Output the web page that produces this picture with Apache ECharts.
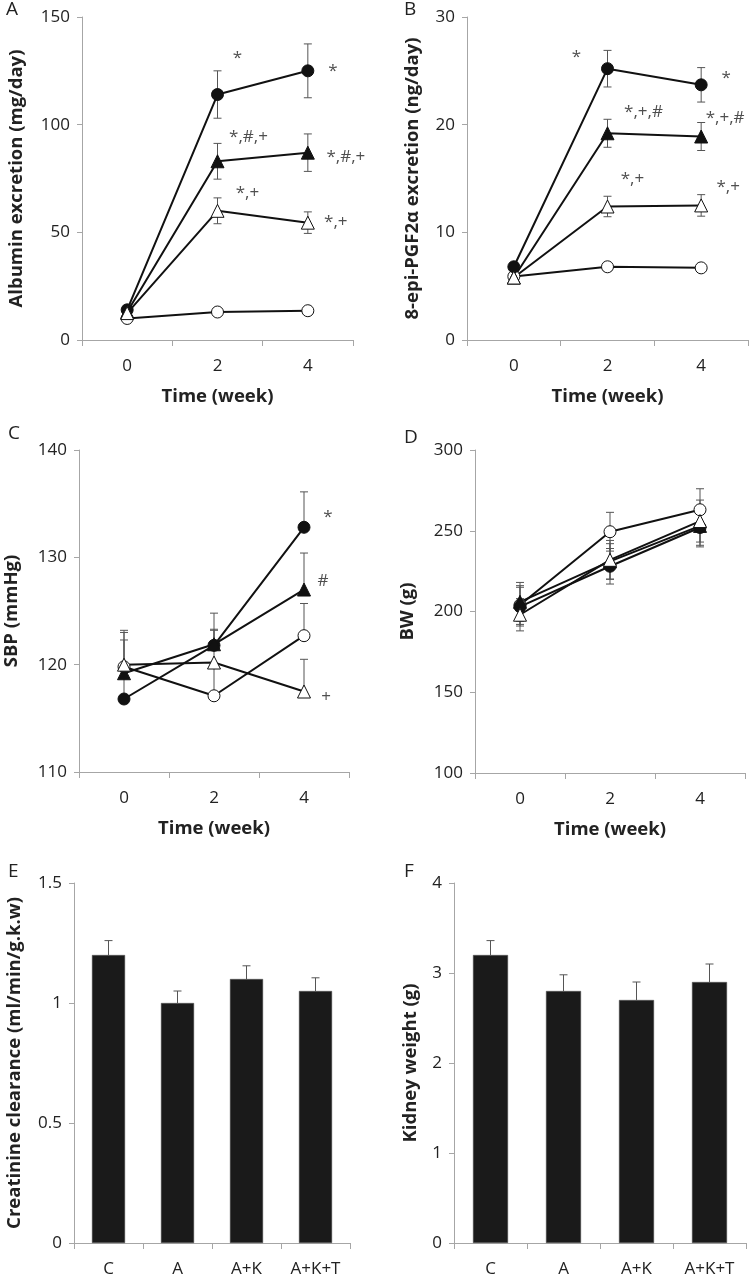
<!DOCTYPE html>
<html>
<head>
<meta charset="utf-8">
<script src="https://cdn.jsdelivr.net/npm/echarts@6/dist/echarts.min.js"></script>
<style>
html, body { margin: 0; padding: 0; background: #fff; }
#main { width: 752px; height: 1280px; }
</style>
</head>
<body>
<div id="main"></div>
<script>
// ---- data ----
var weeks = ['0', '2', '4'];
var groups = ['C', 'A', 'A+K', 'A+K+T'];

// A: albumin excretion (mg/day)  [C, A, A+K, A+K+T]
var albC = [10, 13, 13.6];
var albA = [14, 114, 125];
var albAK = [13, 83, 87];
var albAKT = [12.5, 60, 54.5];
var albErrC = [1, 1, 1];
var albErrA = [2, 11, 12.5];
var albErrAK = [2, 8.3, 8.7];
var albErrAKT = [2, 6, 5];

// B: 8-epi-PGF2a excretion (ng/day)
var pgfC = [5.9, 6.8, 6.7];
var pgfA = [6.8, 25.2, 23.7];
var pgfAK = [5.8, 19.2, 18.9];
var pgfAKT = [5.8, 12.4, 12.5];
var pgfErrC = [0.3, 0.4, 0.3];
var pgfErrA = [0.4, 1.7, 1.6];
var pgfErrAK = [0.3, 1.3, 1.3];
var pgfErrAKT = [0.3, 0.95, 1.0];

// C: SBP (mmHg)
var sbpC = [119.8, 117.1, 122.7];
var sbpA = [116.8, 121.8, 132.8];
var sbpAK = [119.2, 121.9, 127];
var sbpAKT = [120, 120.2, 117.5];
var sbpErrC = [3.4, 3, 3];
var sbpErrA = [3, 3, 3.3];
var sbpErrAK = [3.1, 1.4, 3.4];
var sbpErrAKT = [3, 3, 3];

// D: BW (g)
var bwC = [204, 249.4, 263];
var bwA = [203, 228, 252];
var bwAK = [206, 231, 253];
var bwAKT = [198, 232, 256];
var bwErrC = [12, 12, 13];
var bwErrA = [12, 11, 12];
var bwErrAK = [12, 11, 12];
var bwErrAKT = [10, 12, 13];

// E: creatinine clearance, F: kidney weight
var crcl = [1.2, 1.0, 1.1, 1.05];
var crclErr = [0.06, 0.05, 0.055, 0.055];
var kw = [3.2, 2.8, 2.7, 2.9];
var kwErr = [0.16, 0.18, 0.2, 0.2];

// significance marks: week index, value, text
var annAX = [1, 2, 1, 2, 1, 2];
var annAY = [131, 125, 94, 85, 68, 54.5];
var annAText = ['*', '*', '*,#,+', '*,#,+', '*,+', '*,+'];
var annBX = [1, 2, 1, 2, 1, 2];
var annBY = [26.3, 24.3, 21.2, 20.6, 14.9, 14.2];
var annBText = ['*', '*', '*,+,#', '*,+,#', '*,+', '*,+'];
var annCX = [2, 2, 2];
var annCY = [133.7, 127.8, 117];
var annCText = ['*', '#', '+'];

// ---- layout ----
var annADx = [20, 25, 31, 38, 30, 28];
var annBDx = [-31, 25, 36, 24, 25, 27];
var annCDx = [24, 19, 22];

var FONT = 'Open Sans';
var AXIS_COLOR = '#a6a6a6';
var grids = [
  { left: 82, top: 17, width: 271, height: 323 },
  { left: 467, top: 17, width: 281, height: 323 },
  { left: 79, top: 450, width: 270, height: 322 },
  { left: 475, top: 450, width: 270, height: 323 },
  { left: 74, top: 883, width: 276, height: 360 },
  { left: 454, top: 883, width: 292, height: 360 }
];

function xAxis(idx, cats, name) {
  return {
    type: 'category', gridIndex: idx, data: cats, boundaryGap: true,
    name: name, nameLocation: 'middle', nameGap: 47,
    nameTextStyle: { fontFamily: FONT, fontWeight: 'bold', fontSize: 18.5, color: '#222' },
    axisLine: { lineStyle: { color: AXIS_COLOR, width: 1 } },
    axisTick: { show: true, length: 6, inside: false, lineStyle: { color: AXIS_COLOR } },
    axisLabel: { fontFamily: FONT, fontSize: 17, color: '#222', margin: 18 },
    splitLine: { show: false }
  };
}

function yAxis(idx, min, max, interval, name, gap) {
  return {
    type: 'value', gridIndex: idx, min: min, max: max, interval: interval,
    name: name, nameLocation: 'middle', nameGap: gap,
    nameTextStyle: { fontFamily: FONT, fontWeight: 'bold', fontSize: 18.5, color: '#222' },
    axisLine: { show: true, lineStyle: { color: AXIS_COLOR, width: 1 } },
    axisTick: { show: true, length: 5, lineStyle: { color: AXIS_COLOR } },
    axisLabel: { fontFamily: FONT, fontSize: 17, color: '#222', margin: 12 },
    splitLine: { show: false }
  };
}

// error bars drawn through the axes
function errBars(idx, vals, errs, both) {
  return {
    type: 'custom', xAxisIndex: idx, yAxisIndex: idx, z: 1, silent: true,
    data: vals.map(function (v, i) { return [i, v, errs[i]]; }),
    renderItem: function (params, api) {
      var x = api.value(0), v = api.value(1), e = api.value(2);
      var top = api.coord([x, v + e]);
      var bot = api.coord([x, both ? v - e : v]);
      var st = { stroke: '#555', lineWidth: 1 };
      var kids = [
        { type: 'line', shape: { x1: top[0], y1: top[1], x2: bot[0], y2: bot[1] }, style: st },
        { type: 'line', shape: { x1: top[0] - 4, y1: top[1], x2: top[0] + 4, y2: top[1] }, style: st }
      ];
      if (both) {
        kids.push({ type: 'line', shape: { x1: bot[0] - 4, y1: bot[1], x2: bot[0] + 4, y2: bot[1] }, style: st });
      }
      return { type: 'group', children: kids };
    }
  };
}

var markers = [
  { symbol: 'circle', size: 12, fill: '#fff' },
  { symbol: 'circle', size: 12, fill: '#111' },
  { symbol: 'triangle', size: 13, fill: '#111' },
  { symbol: 'triangle', size: 13, fill: '#fff' }
];

function lineSeries(idx, vals, m) {
  return {
    type: 'line', xAxisIndex: idx, yAxisIndex: idx, data: vals, z: 3,
    symbol: m.symbol, symbolSize: m.size, showSymbol: true,
    lineStyle: { color: '#111', width: 2 },
    itemStyle: { color: m.fill, borderColor: '#111', borderWidth: 1 },
    emphasis: { disabled: true }
  };
}

function annSeries(idx, xs, ys, texts, dxs) {
  return {
    type: 'scatter', xAxisIndex: idx, yAxisIndex: idx, symbolSize: 0, z: 5,
    data: xs.map(function (x, i) {
      return { value: [x, ys[i]], label: { offset: [dxs[i], 0] } };
    }),
    label: {
      show: true, position: 'inside', fontFamily: FONT, fontSize: 17, color: '#222',
      formatter: function (p) { return texts[p.dataIndex]; }
    }
  };
}

var series = [];
var panels = [
  [[albC, albA, albAK, albAKT], [albErrC, albErrA, albErrAK, albErrAKT], true],
  [[pgfC, pgfA, pgfAK, pgfAKT], [pgfErrC, pgfErrA, pgfErrAK, pgfErrAKT], true],
  [[sbpC, sbpA, sbpAK, sbpAKT], [sbpErrC, sbpErrA, sbpErrAK, sbpErrAKT], false],
  [[bwC, bwA, bwAK, bwAKT], [bwErrC, bwErrA, bwErrAK, bwErrAKT], true]
];
panels.forEach(function (p, idx) {
  p[0].forEach(function (vals, k) {
    series.push(errBars(idx, vals, p[1][k], p[2]));
    series.push(lineSeries(idx, vals, markers[k]));
  });
});
series.push(annSeries(0, annAX, annAY, annAText, annADx));
series.push(annSeries(1, annBX, annBY, annBText, annBDx));
series.push(annSeries(2, annCX, annCY, annCText, annCDx));

[[4, crcl, crclErr], [5, kw, kwErr]].forEach(function (b) {
  series.push({
    type: 'bar', xAxisIndex: b[0], yAxisIndex: b[0], data: b[1], barWidth: '48%', z: 2,
    itemStyle: { color: '#1a1a1a', borderColor: '#555', borderWidth: 0.5 },
    emphasis: { disabled: true }
  });
  series.push(errBars(b[0], b[1], b[2], false));
  series[series.length - 1].z = 3;
});

var letters = [['A', 6, 0], ['B', 404, 0], ['C', 8, 424], ['D', 404, 428], ['E', 8, 862], ['F', 404, 862]];

var option = {
  animation: false,
  backgroundColor: '#fff',
  title: letters.map(function (l) {
    return { text: l[0], left: l[1], top: l[2], padding: 0,
      textStyle: { fontFamily: FONT, fontWeight: 'normal', fontSize: 19, color: '#222' } };
  }),
  grid: grids,
  xAxis: [
    xAxis(0, weeks, 'Time (week)'),
    xAxis(1, weeks, 'Time (week)'),
    xAxis(2, weeks, 'Time (week)'),
    xAxis(3, weeks, 'Time (week)'),
    xAxis(4, groups, ''),
    xAxis(5, groups, '')
  ],
  yAxis: [
    yAxis(0, 0, 150, 50, 'Albumin excretion (mg/day)', 56),
    yAxis(1, 0, 30, 10, '8-epi-PGF2\u03b1 excretion (ng/day)', 45),
    yAxis(2, 110, 140, 10, 'SBP (mmHg)', 58),
    yAxis(3, 100, 300, 50, 'BW (g)', 58),
    yAxis(4, 0, 1.5, 0.5, 'Creatinine clearance (ml/min/g.k.w)', 50),
    yAxis(5, 0, 4, 1, 'Kidney weight (g)', 34)
  ],
  series: series
};

var chart = echarts.init(document.getElementById('main'), null, { renderer: 'canvas' });
chart.setOption(option);
</script>
</body>
</html>
